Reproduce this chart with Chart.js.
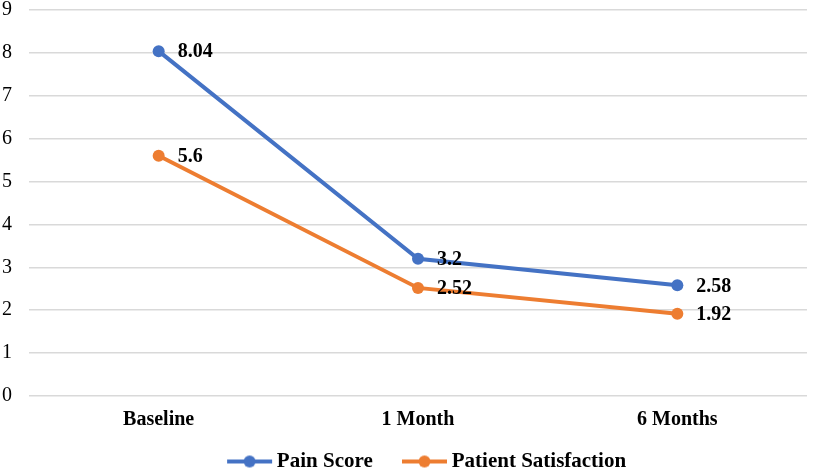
<!DOCTYPE html>
<html><head><meta charset="utf-8">
<script src="https://cdn.jsdelivr.net/npm/chart.js@4"></script>
<style>html,body{margin:0;padding:0;background:#fff;}#wrap{width:813px;height:469px;}</style>
</head><body><div id="wrap"><canvas id="c"></canvas></div>
<script>
const categories = ["Baseline", "1 Month", "6 Months"];
const painScore = [8.04, 3.2, 2.58];
const patientSatisfaction = [5.6, 2.52, 1.92];
const seriesNames = ["Pain Score", "Patient Satisfaction"];
const yTicks = [0,1,2,3,4,5,6,7,8,9];

const BLUE = "#4472C4", ORANGE = "#ED7D31";
const SERIF = "'Liberation Serif', 'Times New Roman', serif";

// legend icon: line with marker, drawn in the right part of a wider transparent image
const LEG_PAD = 15, LEG_BOX = 53.5, LEG_IMG_W = 67;
function legendIcon(color){
  const cv = document.createElement('canvas');
  cv.width = LEG_IMG_W; cv.height = 14;
  const c = cv.getContext('2d');
  const x1 = LEG_IMG_W - 47, x2 = LEG_IMG_W;
  c.strokeStyle = color; c.lineWidth = 4;
  c.beginPath(); c.moveTo(x1 + 1, 7); c.lineTo(x2 - 1, 7); c.stroke();
  c.fillStyle = color; c.beginPath(); c.arc((x1 + x2) / 2, 7, 6, 0, Math.PI * 2); c.fill();
  return cv;
}
const icons = [legendIcon(BLUE), legendIcon(ORANGE)];

const valueLabels = {
  id: 'valueLabels',
  afterDatasetsDraw(chart){
    const ctx = chart.ctx;
    ctx.save();
    ctx.font = "bold 20px " + SERIF;
    ctx.fillStyle = "#000";
    ctx.textAlign = "left";
    ctx.textBaseline = "middle";
    chart.data.datasets.forEach((ds, i) => {
      const meta = chart.getDatasetMeta(i);
      meta.data.forEach((pt, j) => {
        ctx.fillText(String(ds.data[j]), pt.x + 19, pt.y + 1);
      });
    });
    ctx.restore();
  }
};

const legendShift = {
  id: 'legendShift',
  afterLayout(chart){
    if (chart.legend) { chart.legend.left += 12; chart.legend.right += 12; }
  }
};

new Chart(document.getElementById('c'), {
  type: 'line',
  data: {
    labels: categories,
    datasets: [
      {label: seriesNames[0], data: painScore, borderColor: BLUE, backgroundColor: BLUE, borderWidth: 4, pointRadius: 6, pointHoverRadius: 6, pointBackgroundColor: BLUE, pointBorderWidth: 0, tension: 0},
      {label: seriesNames[1], data: patientSatisfaction, borderColor: ORANGE, backgroundColor: ORANGE, borderWidth: 4, pointRadius: 6, pointHoverRadius: 6, pointBackgroundColor: ORANGE, pointBorderWidth: 0, tension: 0}
    ]
  },
  options: {
    responsive: true,
    maintainAspectRatio: false,
    animation: false,
    layout: {padding: {top: 0, right: 0, left: 2, bottom: -13}},
    plugins: {
      tooltip: {enabled: false},
      legend: {
        position: 'bottom',
        labels: {
          usePointStyle: true,
          pointStyleWidth: LEG_BOX,
          padding: LEG_PAD,
          color: "#000",
          font: {family: SERIF, size: 21, weight: 'bold'},
          generateLabels(chart){
            const items = Chart.defaults.plugins.legend.labels.generateLabels(chart);
            items.forEach((it, i) => { it.pointStyle = icons[i]; });
            return items;
          }
        }
      }
    },
    scales: {
      x: {
        offset: true,
        grid: {display: false},
        border: {display: false},
        ticks: {color: "#000", font: {family: SERIF, size: 20, weight: 'bold'}, padding: 4}
      },
      y: {
        min: 0, max: 9,
        afterBuildTicks(axis){ axis.ticks = yTicks.map(v => ({value: v})); },
        afterFit(axis){ axis.width = 27; },
        grid: {color: "#d9d9d9", lineWidth: 1.5, drawTicks: false},
        border: {display: false},
        ticks: {color: "#000", font: {family: SERIF, size: 20, lineHeight: 1.0}, padding: 0, crossAlign: 'far', stepSize: 1}
      }
    }
  },
  plugins: [valueLabels, legendShift]
});
</script>
</body></html>
